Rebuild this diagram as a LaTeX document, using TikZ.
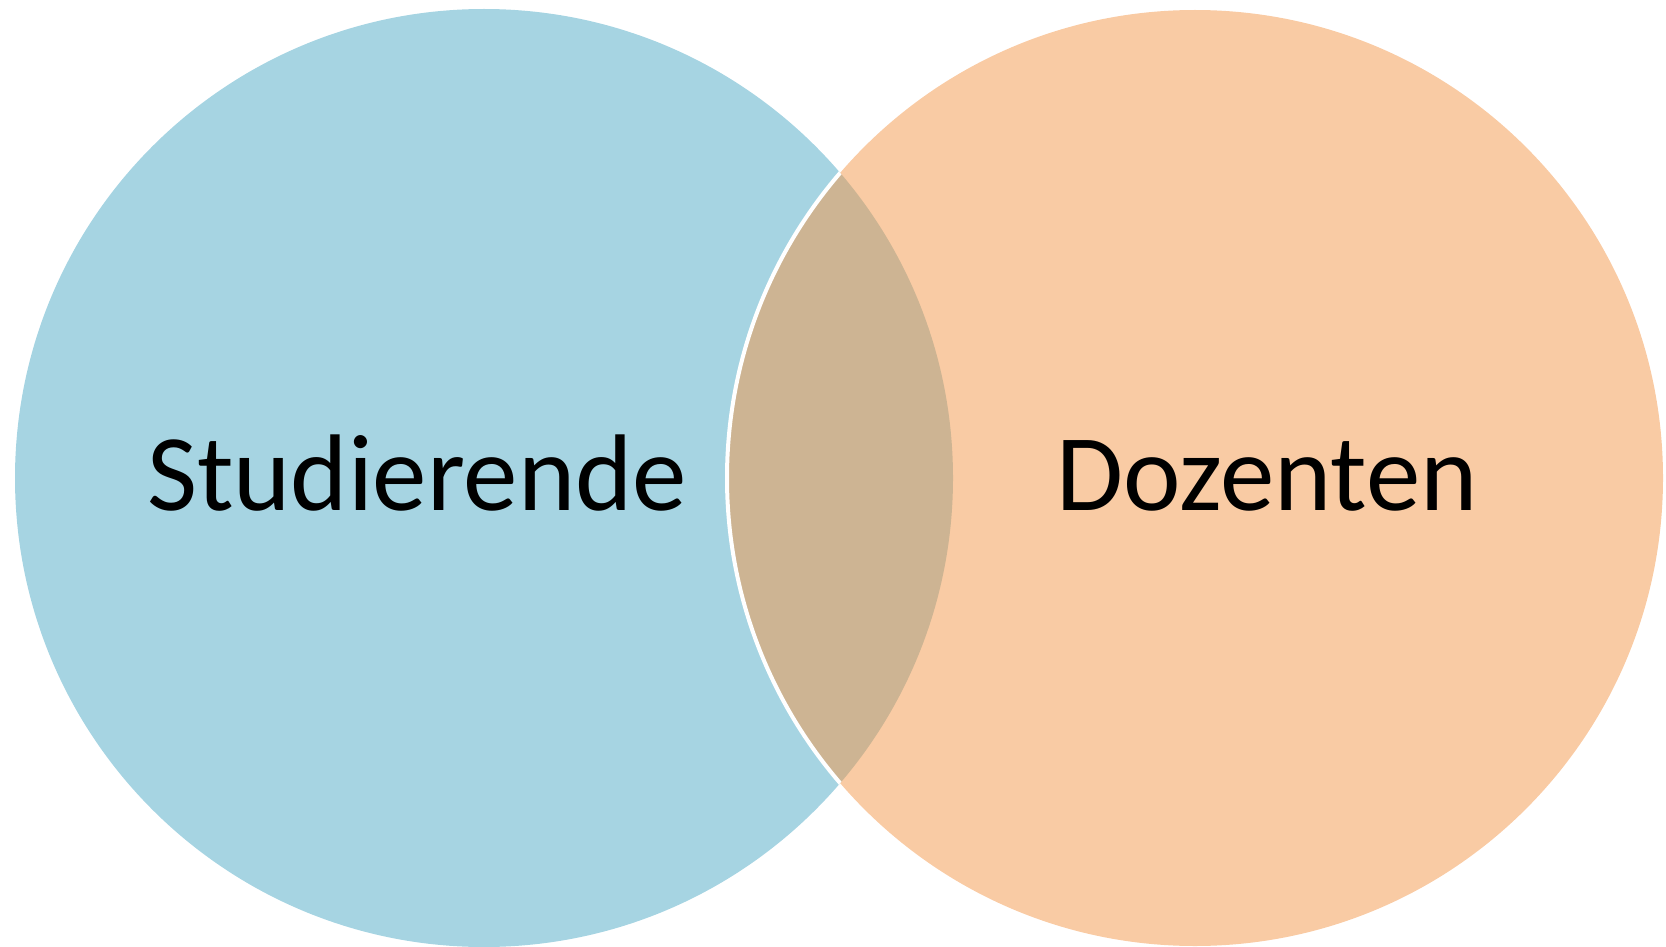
\documentclass[tikz,border=0pt]{standalone}
\usepackage{fontspec}
\setmainfont{Carlito}
\definecolor{vblue}{RGB}{166,212,226}
\definecolor{vorange}{RGB}{249,203,164}
\definecolor{vmix}{RGB}{205,180,147}
\begin{document}
\begin{tikzpicture}[x=1pt,y=-1pt,
  lbl/.style={font=\fontsize{109}{130}\selectfont, text=black, inner sep=0pt, anchor=base}]
\useasboundingbox (0,0) rectangle (1666,947);
\coordinate (cl) at (484,478);
\coordinate (cr) at (1195,478);
\fill[vblue] (cl) circle[radius=469];
\fill[vorange] (cr) circle[radius=468];
\begin{scope}
  \clip (cl) circle[radius=469];
  \fill[vmix] (cr) circle[radius=468];
  \draw[white, line width=4] (cr) circle[radius=468];
\end{scope}
\node[lbl] (stud) at (417,510) {Studierende};
\node[lbl] (doz) at (1267,510) {Dozenten};
\end{tikzpicture}
\end{document}
